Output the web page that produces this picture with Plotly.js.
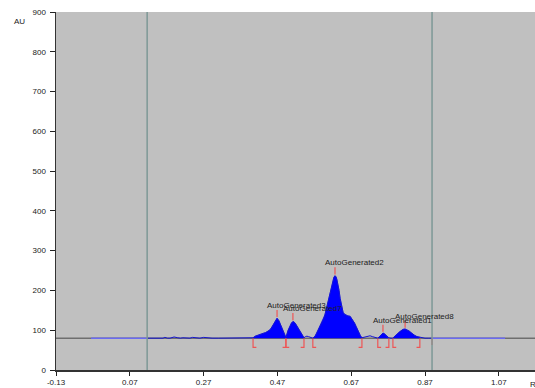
<!DOCTYPE html>
<html>
<head>
<meta charset="utf-8">
<script src="https://cdn.plot.ly/plotly-3.0.1.min.js"></script>
<style>html,body{margin:0;padding:0;background:#fff}#chart{width:535px;height:388px}</style>
</head>
<body>
<div id="chart"></div>
<script>
// ---- data ----
var baselineAU = 80;
var originRf = 0.117;
var frontRf = 0.889;
var traceStartRf = -0.035;
var traceEndRf = 1.087;

var rf = [0.117,0.128,0.138,0.145,0.152,0.160,0.165,0.172,0.179,0.190,0.200,0.207,0.214,0.224,0.233,0.240,0.247,0.253,0.260,0.270,0.279,0.286,0.293,0.310,0.325,0.342,0.360,0.382,0.395,0.404,
  0.410,0.417,0.424,0.431,0.438,0.445,0.450,0.455,0.460,0.464,0.469,0.474,0.478,0.482,0.488,0.493,
  0.499,0.504,0.508,0.512,0.516,0.520,0.525,0.529,0.533,0.537,0.542,
  0.546,0.550,0.554,0.558,0.562,0.566,
  0.572,0.576,0.580,0.585,0.591,0.596,0.599,0.603,0.607,0.611,0.615,0.618,0.620,0.623,0.626,0.629,0.631,0.634,0.637,0.640,0.642,0.645,0.648,0.652,0.656,0.661,0.667,0.671,0.675,0.679,0.683,0.687,0.691,0.695,0.699,
  0.705,0.710,0.716,0.721,0.727,0.732,0.737,0.742,
  0.747,0.751,0.756,0.760,0.764,0.768,0.772,
  0.778,0.783,
  0.789,0.794,0.799,0.805,0.810,0.816,0.821,0.827,0.832,0.837,0.842,0.848,0.852,0.856,
  0.862,0.870,0.880,0.889];
var au = [80,80,81,80,81,80,82,80,80,83,81,80,81,80,80,82,81,80,80,82,81,80,80,80,80,80,80,80,80,81,
  85,88,90,92,94,97,101,108,115,122,130,124,116,108,95,82,
  100,112,118,122,120,115,108,100,94,88,81,
  84,85,84,83,81,80,
  85,92,100,110,120,130,140,155,170,188,205,216,225,233,237,234,228,215,200,180,170,155,145,140,138,136,135,130,125,118,110,101,92,86,81,
  82,83,85,86,84,82,81,80,
  84,88,93,91,88,84,81,
  80,80,
  86,90,95,99,102,103,101,98,94,90,87,84,83,82,
  81,80,80,80];

var peakNames = ["AutoGenerated3","AutoGenerated7","AutoGenerated2","AutoGenerated1","AutoGenerated8"];
var peakRf    = [0.469, 0.512, 0.626, 0.756, 0.816];
var peakAU    = [130, 122, 237, 93, 103];
var peakStart = [0.404, 0.493, 0.566, 0.742, 0.783];
var peakEnd   = [0.493, 0.542, 0.699, 0.772, 0.856];

var xTicks = [-0.13, 0.07, 0.27, 0.47, 0.67, 0.87, 1.07];
var xTickText = ["-0.13","0.07","0.27","0.47","0.67","0.87","1.07"];
var yTicks = [0,100,200,300,400,500,600,700,800,900];

var xMin = -0.13, xMax = 1.168;

// ---- traces ----
var traces = [];
traces.push({x:[xMin,xMax], y:[baselineAU,baselineAU], mode:'lines', line:{color:'#6e6e6e', width:1.6}, hoverinfo:'skip'});
traces.push({x:[traceStartRf,originRf,null,frontRf,traceEndRf], y:[baselineAU,baselineAU,null,baselineAU,baselineAU], mode:'lines', line:{color:'#6a6af2', width:1.6}, hoverinfo:'skip'});

for (var i=0;i<peakNames.length;i++){
  var px=[peakStart[i]], py=[baselineAU];
  for (var j=0;j<rf.length;j++){ if(rf[j]>=peakStart[i] && rf[j]<=peakEnd[i]){px.push(rf[j]); py.push(au[j]);} }
  px.push(peakEnd[i]); py.push(baselineAU);
  traces.push({x:px, y:py, mode:'lines', fill:'toself', fillcolor:'rgb(0,0,255)', line:{color:'rgb(0,0,255)', width:0.5}, hoverinfo:'skip'});
}
traces.push({x:rf, y:au, mode:'lines', line:{color:'rgb(20,20,210)', width:1}, hoverinfo:'skip'});

// red apex ticks
var ax=[], ay=[];
for (var i=0;i<peakRf.length;i++){ ax.push(peakRf[i],peakRf[i],null); ay.push(peakAU[i]+3,peakAU[i]+21,null); }
traces.push({x:ax, y:ay, mode:'lines', line:{color:'#ee5555', width:1.2}, hoverinfo:'skip'});
// red brackets
var bx=[], by=[], foot=0.009, low=baselineAU-23;
for (var i=0;i<peakStart.length;i++){
  bx.push(peakStart[i],peakStart[i],peakStart[i]+foot,null); by.push(baselineAU-1,low,low,null);
  bx.push(peakEnd[i],peakEnd[i],peakEnd[i]-foot,null); by.push(baselineAU-1,low,low,null);
}
bx.push(frontRf,frontRf,null); by.push(baselineAU-1,baselineAU-17,null);
traces.push({x:bx, y:by, mode:'lines', line:{color:'#ee5555', width:1.2}, hoverinfo:'skip'});

var annotations = [];
for (var i=0;i<peakNames.length;i++){
  annotations.push({x:peakRf[i], y:peakAU[i]+21, xref:'x', yref:'y', text:peakNames[i], showarrow:false,
    xanchor:'left', yanchor:'bottom', xshift:-12, yshift:-2, font:{family:'Liberation Sans, Arial', size:8, color:'#222'}});
}
annotations.push({x:0, y:1, xref:'paper', yref:'paper', text:'AU', showarrow:false, xanchor:'right', yanchor:'middle', xshift:-29, yshift:-9, font:{family:'Liberation Sans, Arial', size:8, color:'#222'}});
annotations.push({x:1, y:0, xref:'paper', yref:'paper', text:'Rf', showarrow:false, xanchor:'left', yanchor:'middle', xshift:-7, yshift:-14, font:{family:'Liberation Sans, Arial', size:8, color:'#222'}});

var shapes = [originRf, frontRf].map(function(v){
  return {type:'line', xref:'x', yref:'paper', x0:v, x1:v, y0:0, y1:1, line:{color:'#7d9896', width:1.5}};
});

var layout = {
  width:535, height:388,
  margin:{l:56, r:0, t:12, b:17.5, pad:0},
  paper_bgcolor:'#ffffff', plot_bgcolor:'#c0c0c0',
  showlegend:false,
  font:{family:'Liberation Sans, Arial', size:8, color:'#222'},
  xaxis:{range:[xMin,xMax], tickvals:xTicks, ticktext:xTickText, ticks:'outside', ticklen:4, tickcolor:'#222', showgrid:false, zeroline:false, showline:true, linecolor:'#333', linewidth:1.5, tickfont:{size:8}, fixedrange:true},
  yaxis:{range:[0,900], tickvals:yTicks, ticks:'outside', ticklen:5, tickcolor:'#222', showgrid:false, zeroline:false, showline:true, linecolor:'#333', linewidth:1.5, tickfont:{size:8}, ticklabelstandoff:2, fixedrange:true},
  shapes:shapes,
  annotations:annotations
};

Plotly.newPlot('chart', traces, layout, {displayModeBar:false, staticPlot:true});
</script>
</body>
</html>
